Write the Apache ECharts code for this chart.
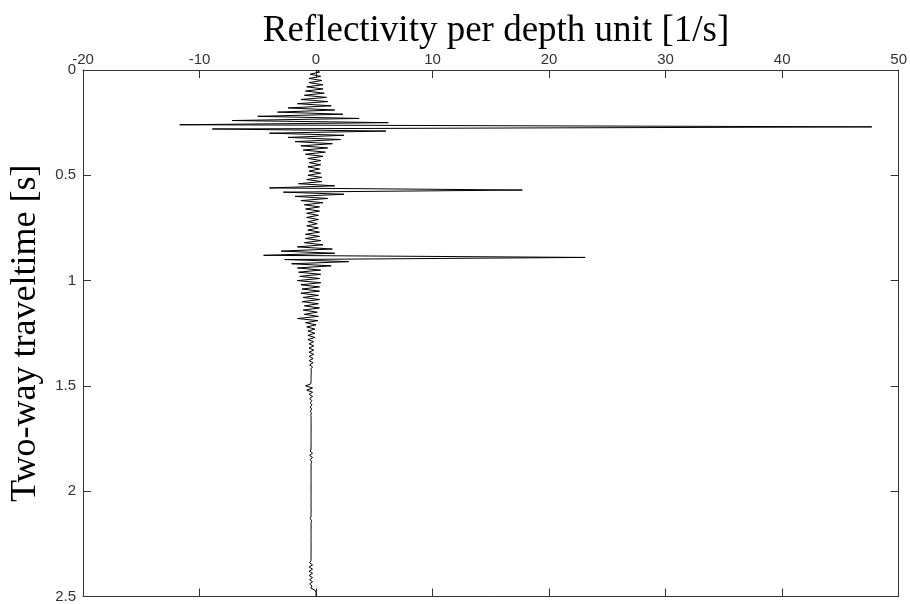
<!DOCTYPE html>
<html>
<head>
<meta charset="utf-8">
<script src="https://cdn.jsdelivr.net/npm/echarts@6/dist/echarts.min.js"></script>
<style>
  html, body { margin: 0; padding: 0; background: #fff; }
  #chart { width: 910px; height: 604px; }
</style>
</head>
<body>
<div id="chart"></div>
<script>
// Reflectivity trace sampled every 10 ms (two-way traveltime), in 1/s
const sampleInterval = 0.01;
const reflectivity = [
  0, 0.3, -0.5, 0.4, -0.6, 0.5, -0.6, 0.6, -0.8, 0.6,
  -0.9, 0.7, -1.0, 0.9, -1.3, 1.0, -1.6, 1.3, -2.4, 1.6,
  -3.3, 2.3, -5.0, 3.7, -7.2, 6.2, -11.7, 47.7, -8.9, 6.0,
  -4.0, 2.4, -2.4, 2.1, -1.8, 1.4, -1.3, 1.0, -1.1, 0.8,
  -0.9, 0.6, -0.7, 0.4, -0.6, 0.4, -0.7, 0.3, -0.6, 0.4,
  -0.7, 0.5, -0.8, 0.5, -1.5, 1.6, -4.0, 17.7, -2.8, 2.4,
  -1.8, 1.0, -1.3, 0.6, -1.0, 0.3, -0.9, 0.3, -0.8, 0.2,
  -0.8, 0.2, -0.7, 0.1, -0.8, 0.2, -0.7, 0.3, -0.9, 0.3,
  -0.9, 0.4, -1.0, 0.6, -1.6, 1.4, -3.0, 1.6, -4.5, 23.1,
  -2.7, 2.8, -2.1, 1.3, -1.6, 0.4, -1.5, 0.4, -1.4, 0.3,
  -1.6, 0.4, -1.3, 0.3, -1.2, 0.3, -1.3, 0.2, -1.1, 0.3,
  -1.2, 0.2, -1.0, 0.3, -1.1, 0.1, -1.0, 0.2, -1.6, 0.15,
  -0.9, 0.0, -0.8, -0.1, -0.7, -0.1, -0.7, -0.1, -0.7, -0.2,
  -0.6, -0.2, -0.6, -0.2, -0.6, -0.2, -0.6, -0.25, -0.6, -0.25,
  -0.55, -0.3, -0.45, -0.4, -0.42, -0.42, -0.43, -0.42, -0.43, -0.45,
  -0.9, -0.3, -0.8, -0.3, -0.6, -0.3, -0.55, -0.35, -0.5, -0.35,
  -0.5, -0.38, -0.48, -0.4, -0.45, -0.42, -0.43, -0.42, -0.43, -0.42,
  -0.43, -0.42, -0.43, -0.43, -0.42, -0.43, -0.43, -0.42, -0.43, -0.43,
  -0.43, -0.5, -0.3, -0.55, -0.3, -0.5, -0.38, -0.43, -0.43, -0.42,
  -0.43, -0.43, -0.42, -0.43, -0.43, -0.43, -0.42, -0.43, -0.43, -0.43,
  -0.43, -0.42, -0.43, -0.43, -0.43, -0.42, -0.43, -0.43, -0.43, -0.42,
  -0.43, -0.43, -0.43, -0.5, -0.38, -0.43, -0.43, -0.42, -0.43, -0.43,
  -0.43, -0.42, -0.43, -0.43, -0.43, -0.42, -0.43, -0.43, -0.43, -0.43,
  -0.43, -0.43, -0.43, -0.43, -0.55, -0.3, -0.6, -0.3, -0.6, -0.3,
  -0.6, -0.3, -0.55, -0.3, -0.55, -0.35, -0.45, -0.1, 0.0, 0.0,
  0.0
];

// Axis ranges
const xRange = { min: -20, max: 50, step: 10 };
const tRange = { min: 0, max: 2.5, step: 0.5 };

const titleText = 'Reflectivity per depth unit [1/s]';
const yTitleText = 'Two-way traveltime [s]';

const traceData = reflectivity.map((r, i) => [r, +(i * sampleInterval).toFixed(3)]);

const frameColor = '#333';
const labelStyle = { color: '#333', fontFamily: 'Liberation Sans, Arial, sans-serif', fontSize: 15 };

function xAxisDef(pos, showLabels) {
  return {
    type: 'value', position: pos,
    min: xRange.min, max: xRange.max, interval: xRange.step,
    axisLine: { show: true, onZero: false, lineStyle: { color: frameColor, width: 1 } },
    axisTick: { show: true, inside: true, length: 8, lineStyle: { color: frameColor } },
    axisLabel: Object.assign({ show: showLabels, margin: 3 }, labelStyle),
    splitLine: { show: false }
  };
}
function yAxisDef(pos, showLabels) {
  return {
    type: 'value', position: pos, inverse: true,
    min: tRange.min, max: tRange.max, interval: tRange.step,
    axisLine: { show: true, onZero: false, lineStyle: { color: frameColor, width: 1 } },
    axisTick: { show: true, inside: true, length: 8, lineStyle: { color: frameColor } },
    axisLabel: Object.assign({ show: showLabels, margin: 7 }, labelStyle),
    splitLine: { show: false }
  };
}

const yAxisLeft = yAxisDef('left', true);
yAxisLeft.name = yTitleText;
yAxisLeft.nameLocation = 'middle';
yAxisLeft.nameGap = 39;
yAxisLeft.nameRotate = 90;
yAxisLeft.nameTextStyle = { fontFamily: 'Liberation Serif, Times New Roman, serif', fontSize: 36, color: '#000' };

const chart = echarts.init(document.getElementById('chart'), null, { renderer: 'canvas' });
chart.setOption({
  animation: false,
  backgroundColor: '#fff',
  title: {
    text: titleText,
    left: 491, top: 8, textAlign: 'center',
    textStyle: { fontFamily: 'Liberation Serif, Times New Roman, serif', fontSize: 37, fontWeight: 'normal', color: '#000' }
  },
  grid: { left: 81, right: 8, top: 70, bottom: 7, containLabel: false },
  xAxis: [xAxisDef('top', true), xAxisDef('bottom', false)],
  yAxis: [yAxisLeft, yAxisDef('right', false)],
  series: [{
    type: 'line',
    xAxisIndex: 0, yAxisIndex: 0,
    data: traceData,
    showSymbol: false,
    symbol: 'none',
    lineStyle: { color: '#000', width: 1 },
    clip: true
  }]
});
</script>
</body>
</html>
